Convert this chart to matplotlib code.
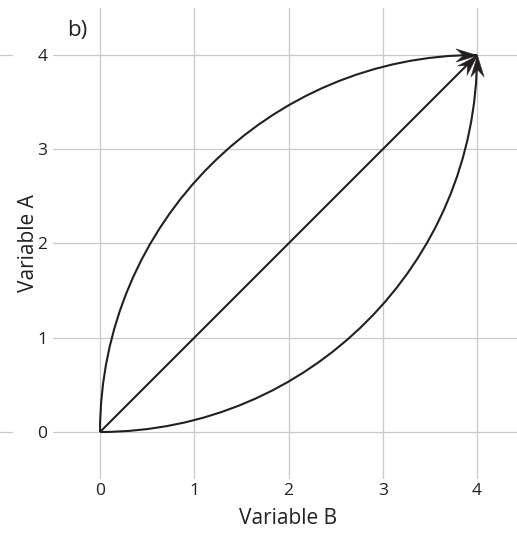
import matplotlib
matplotlib.use("Agg")
import matplotlib.pyplot as plt
import numpy as np
from matplotlib.path import Path
from matplotlib.patches import PathPatch
from matplotlib.markers import MarkerStyle
from matplotlib.transforms import Affine2D
from matplotlib.lines import Line2D

plt.rcParams['font.family'] = ['Open Sans', 'DejaVu Sans']

# ---- data ----
ticks = [0, 1, 2, 3, 4]
tick_labels = ['0', '1', '2', '3', '4']
# cubic Bezier control points of the three paths (start -> end)
upper_x = [0, 0, 1.79, 4]
upper_y = [0, 2.21, 4, 4]
lower_x = [0, 2.21, 4, 4]
lower_y = [0, 0, 1.79, 4]
diag_x = [0, 4]
diag_y = [0, 4]
xlabel = 'Variable B'
ylabel = 'Variable A'
panel = 'b)'

INK = '#231f20'
GRID = '#c9c9c9'

W, H = 517, 536
fig = plt.figure(figsize=(W / 100, H / 100), dpi=100)
ax = fig.add_axes([52.9 / W, (H - 479.1) / H, 471.25 / W, 471.25 / H])
ax.set_xlim(-0.5, 4.5)
ax.set_ylim(-0.5, 4.5)
for s in ax.spines.values():
    s.set_visible(False)
ax.set_xticks(ticks)
ax.set_xticklabels(tick_labels)
ax.set_yticks(ticks)
ax.set_yticklabels(tick_labels)
ax.tick_params(length=0, labelsize=12.5, colors=INK)
ax.tick_params(axis='x', pad=3)
ax.tick_params(axis='y', pad=4)
ax.grid(True, color=GRID, lw=0.9)
ax.set_axisbelow(True)
ax.set_xlabel(xlabel, fontsize=15, color=INK, labelpad=6)
ax.set_ylabel(ylabel, fontsize=15, color=INK, labelpad=-1)

LW = 1.5

def bezier(xs, ys):
    verts = list(zip(xs, ys))
    codes = [Path.MOVETO] + [Path.CURVE4] * 3
    p = PathPatch(Path(verts, codes), fill=False, ec=INK, lw=LW, zorder=3,
                  capstyle='butt')
    ax.add_patch(p)

bezier(upper_x, upper_y)
bezier(lower_x, lower_y)
ax.plot(diag_x, diag_y, color=INK, lw=LW, zorder=3, solid_capstyle='butt')

# stealth arrowhead marker (tip at origin, pointing +x)
head = Path([(0, 0), (-1, 0.31), (-0.66, 0), (-1, -0.31), (0, 0)],
            [Path.MOVETO, Path.LINETO, Path.LINETO, Path.LINETO, Path.CLOSEPOLY])

fig.canvas.draw()

def arrowhead(xs, ys):
    p0 = ax.transData.transform((xs[-2], ys[-2]))
    p1 = ax.transData.transform((xs[-1], ys[-1]))
    ang = np.degrees(np.arctan2(p1[1] - p0[1], p1[0] - p0[0]))
    m = MarkerStyle(head, transform=Affine2D().rotate_deg(ang))
    ax.plot([xs[-1]], [ys[-1]], marker=m, markersize=31, color=INK,
            mec=INK, mew=0.3, ls='none', zorder=4, clip_on=False)

arrowhead(upper_x, upper_y)
arrowhead(lower_x, lower_y)
arrowhead(diag_x, diag_y)

# panel label
fig.text(67 / W, (H - 36) / H, panel, fontsize=16, color=INK, va='baseline', ha='left')

# stubs of neighbouring panel's gridlines at the left edge
for ypx in (55, 432):
    fig.add_artist(Line2D([0, 12 / W], [(H - ypx) / H] * 2, color=GRID, lw=0.9))

fig.savefig('out.png', dpi=100)
